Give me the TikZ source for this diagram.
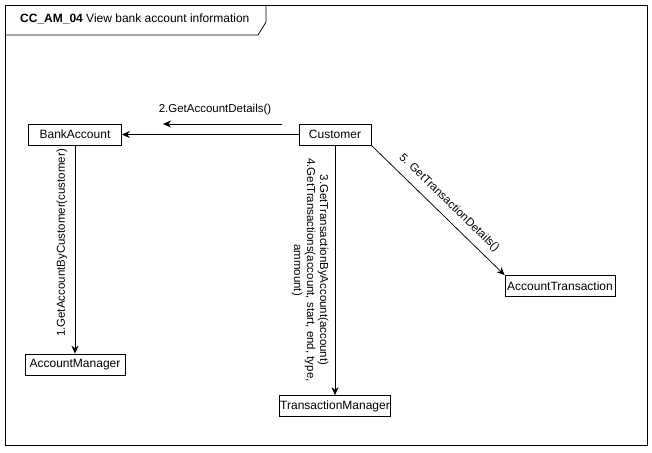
\documentclass[tikz,border=0pt]{standalone}
\usepackage{fontspec}
\setmainfont{Liberation Sans}
\usetikzlibrary{arrows.meta}

\tikzset{
  obj/.style={draw, line width=0.75pt, inner sep=0pt, minimum height=21pt,
    font=\fontsize{12}{13}\selectfont},
  msg/.style={line width=0.75pt, -{Stealth[length=8pt,width=7pt]}},
  lbl/.style={inner sep=0pt, font=\fontsize{11.5}{13}\selectfont},
}

\begin{document}
\begin{tikzpicture}[x=1pt, y=-1pt]

      \useasboundingbox (0,0) rectangle (652,452) ;

      % frame and title tab
      \draw [line width=0.75pt] (5,5) rectangle (647,445) ;
      \draw [line width=0.75pt] (5,35) -- (258,35) -- (266,22) -- (266,5) ;
      \node [lbl, anchor=west, font=\fontsize{12}{13}\selectfont] (title) at (20,19)
        {\textbf{CC\_AM\_04} View bank account information} ;

      % objects
      \node [obj, minimum width=93pt] (bank) at (75,134.5) {BankAccount} ;
      \node [obj, minimum width=72pt] (cust) at (335,134.5) {Customer} ;
      \node [obj, minimum width=100pt] (amgr) at (75,364.5) {AccountManager} ;
      \node [obj, minimum width=111pt] (tmgr) at (335,406) {TransactionManager} ;
      \node [obj, minimum width=110pt] (tact) at (560,286) {AccountTransaction} ;

      % links
      \draw [msg] (cust) -- (bank) ;
      \draw [msg] (bank) -- (amgr) ;
      \draw [msg] (cust) -- (tmgr) ;
      \draw [msg] (cust.south east) -- (tact.north west) ;

      % message arrow and labels
      \coordinate (m2s) at (282,124) ;
      \coordinate (m2e) at (163,124) ;
      \draw [msg] (m2s) -- (m2e) ;
      \node [lbl] (l2) at (215,110) {2.GetAccountDetails()} ;

      \node [lbl, rotate=90] (l1) at (62,243) {1.GetAccountByCustomer(customer)} ;

      \node [lbl, rotate=-90, align=center] (l34) at (310,270)
        {3.GetTransactionByAccount(account)\\4.GetTransactions(account, start, end, type,\\ammount)} ;

      \node [lbl, rotate=-44.3] (l5) at (449,203) {5. GetTransactionDetails()} ;

    \end{tikzpicture}
\end{document}
